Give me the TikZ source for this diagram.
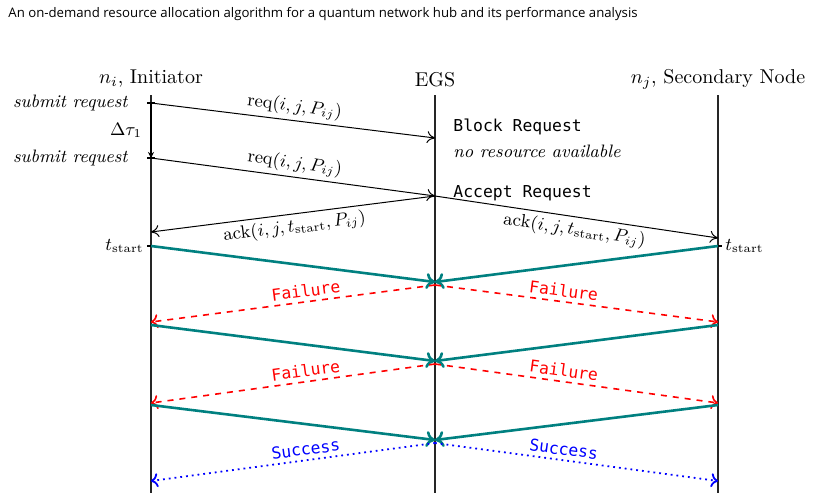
\documentclass[tikz,border=0pt]{standalone}
\usepackage{fontspec}
\usepackage{amsmath}
\usetikzlibrary{arrows.meta,positioning,calc}
\newfontfamily\capfont{Open Sans}
\newfontfamily\msgfont{DejaVu Sans Mono}
\definecolor{pairTeal}{RGB}{0,128,128}

\begin{document}
\begin{tikzpicture}[
  x=0.5pt, y=-0.5pt,
  life/.style={line width=0.9pt, black!85},
  msg/.style={-{To[length=4pt,width=6pt]}, line width=0.5pt},
  gen/.style={-{To[length=4.5pt,width=8pt]}, pairTeal, line width=1.3pt},
  fail/.style={-{To[length=3.5pt,width=7pt]}, red, dashed, line width=0.8pt},
  succ/.style={-{To[length=3.5pt,width=7pt]}, blue, dotted, line width=0.9pt},
  head/.style={font=\normalsize, inner sep=1pt},
  lab/.style={font=\small, sloped, inner sep=2pt},
  note/.style={font=\small\itshape, anchor=east, inner sep=1pt},
  state/.style={font=\msgfont\fontsize{8.2}{10}\selectfont, anchor=west, inner sep=1pt},
  res/.style={font=\msgfont\fontsize{8.2}{10}\selectfont, sloped, above, inner sep=2pt},
  tick/.style={line width=0.6pt}
]
  \useasboundingbox (0,0) rectangle (820,499);

  % caption
  \node[font=\capfont\fontsize{6.6}{8}\selectfont, anchor=west, inner sep=0pt] (cap) at (8,14)
    {An on-demand resource allocation algorithm for a quantum network hub and its performance analysis};

  % lifeline heads
  \node[head] (ni) at (151,79) {$n_i$, Initiator};
  \node[head] (egs) at (435,80) {EGS};
  \node[head] (nj) at (718,79) {$n_j$, Secondary Node};

  \coordinate (iTop) at (151,95);  \coordinate (iBot) at (151,493);
  \coordinate (eTop) at (435,95);  \coordinate (eBot) at (435,493);
  \coordinate (jTop) at (718,95);  \coordinate (jBot) at (718,493);
  \draw[life] (iTop) -- (iBot);
  \draw[life] (eTop) -- (eBot);
  \draw[life] (jTop) -- (jBot);

  % events on the lifelines
  \coordinate (sub1) at (151,103);  \coordinate (sub2) at (151,158);
  \coordinate (blk) at (435,138);   \coordinate (acc) at (435,196);
  \coordinate (ackI) at (151,232);  \coordinate (ackJ) at (718,238);
  \coordinate (tsI) at (151,246);   \coordinate (tsJ) at (718,246);

  % request phase
  \draw[tick] ($(sub1)+(-4,0)$) -- ($(sub1)+(4,0)$);
  \draw[tick] ($(sub2)+(-4,0)$) -- ($(sub2)+(4,0)$);
  \node[note] (s1) at (130,103) {submit request};
  \node[note] (s2) at (130,158) {submit request};
  \draw[-{Stealth[length=3pt,width=3pt]}, line width=0.6pt] (sub1) -- (sub2);
  \node[font=\small] (dt) at (126,130) {$\Delta\tau_1$};

  \draw[msg] (sub1) -- node[lab, above] {$\mathrm{req}(i,j,P_{ij})$} (blk);
  \draw[msg] (sub2) -- node[lab, above] {$\mathrm{req}(i,j,P_{ij})$} (acc);
  \node[state] (block) at (451,127) {Block Request};
  \node[state, font=\small\itshape] (nores) at (451,151) {no resource available};
  \node[state] (accept) at (451,193) {Accept Request};

  \draw[msg] (acc) -- node[lab, below] {$\mathrm{ack}(i,j,t_{\mathrm{start}},P_{ij})$} (ackI);
  \draw[msg] (acc) -- node[lab, below] {$\mathrm{ack}(i,j,t_{\mathrm{start}},P_{ij})$} (ackJ);

  \draw[tick] ($(tsI)+(-4,0)$) -- (tsI);
  \draw[tick] (tsJ) -- ($(tsJ)+(4,0)$);
  \node[font=\small, anchor=east, inner sep=1pt] (tsIlab) at (146,246) {$t_{\mathrm{start}}$};
  \node[font=\small, anchor=west, inner sep=1pt] (tsJlab) at (723,246) {$t_{\mathrm{start}}$};

  % generation attempts
  \foreach \k/\yt/\ym/\ye/\sty/\txt in {1/246/282/322/fail/Failure, 2/325/361/403/fail/Failure, 3/405/440/481/succ/Success}{
    \coordinate (gI\k) at (151,\yt);
    \coordinate (gJ\k) at (718,\yt);
    \coordinate (gE\k) at (435,\ym);
    \coordinate (rE\k) at (435,\ym+3);
    \coordinate (rI\k) at (151,\ye);
    \coordinate (rJ\k) at (718,\ye);
    \draw[gen] (gI\k) -- (gE\k);
    \draw[gen] (gJ\k) -- (gE\k);
    \draw[\sty] (rE\k) -- node[res, pos=0.45] {\txt} (rI\k);
    \draw[\sty] (rE\k) -- node[res, pos=0.45] {\txt} (rJ\k);
  }
\end{tikzpicture}
\end{document}
